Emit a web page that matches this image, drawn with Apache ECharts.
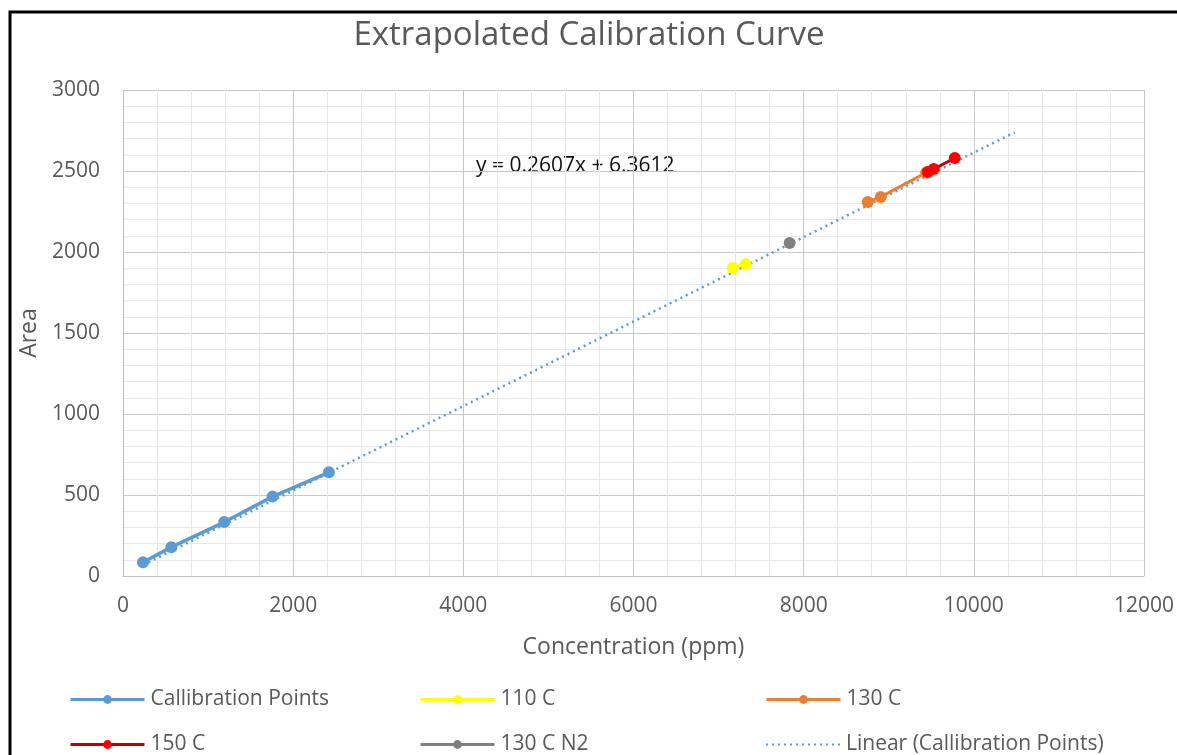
<!DOCTYPE html>
<html>
<head>
<meta charset="utf-8">
<title>Extrapolated Calibration Curve</title>
<script src="https://cdn.jsdelivr.net/npm/echarts@6/dist/echarts.min.js"></script>
<style>
  html, body { margin: 0; padding: 0; background: #fff; }
  #chart { width: 1177px; height: 755px; }
</style>
</head>
<body>
<div id="chart"></div>
<script>
// 标定点
const calX = [235, 568, 1190, 1758, 2420]
const calY = [85, 178, 333, 490, 640]
// 110 C
const t110X = [7165, 7318]
const t110Y = [1901, 1926]
// 130 C
const t130X = [8753, 8906, 9440]
const t130Y = [2309, 2340, 2490]
// 150 C
const t150X = [9459, 9529, 9776]
const t150Y = [2494, 2512, 2580]
// 130 C N2
const t130n2X = [7835]
const t130n2Y = [2056]
// 线性趋势线 (Excel 给出的方程)
const trendSlope = 0.2607
const trendIntercept = 6.3612
const trendX = [235, 10480]

const xTicks = [0, 2000, 4000, 6000, 8000, 10000, 12000]
const yTicks = [0, 500, 1000, 1500, 2000, 2500, 3000]

const zip = (xs, ys) => xs.map((x, i) => [x, ys[i]])

const font = '"Open Sans", "DejaVu Sans", sans-serif'
const gray = '#595959'

const chart = echarts.init(document.getElementById('chart'))

// 每个图例单独放置，模拟 Excel 的两行三列
const legendItem = (item, left, top, lineWidth) => ({
  data: [item],
  left: left,
  top: top,
  padding: 0,
  itemWidth: 74,
  itemHeight: 11,
  lineStyle: { width: lineWidth },
  textStyle: { fontFamily: font, fontSize: 21, color: gray, padding: [0, 0, 0, 1] }
})

const option = {
  animation: false,
  backgroundColor: '#fff',
  title: {
    text: 'Extrapolated Calibration Curve',
    left: 584,
    textAlign: 'center',
    top: 14,
    textStyle: { fontFamily: font, fontSize: 33, fontWeight: 'normal', color: gray }
  },
  graphic: [
    {
      type: 'polyline',
      shape: { points: [[10, 755], [10, 12], [1177, 12]] },
      style: { stroke: '#000', lineWidth: 3, fill: null }
    },
    {
      type: 'text',
      left: 476,
      top: 156,
      style: { text: 'y = 0.2607x + 6.3612', fontFamily: font, fontSize: 21, fill: '#111' }
    }
  ],
  legend: [
    legendItem('Callibration Points', 69, 689, 3),
    legendItem('110 C', 419, 689, 3),
    legendItem('130 C', 765, 689, 3),
    legendItem('150 C', 69, 734, 3),
    legendItem('130 C N2', 419, 734, 3),
    legendItem({ name: 'Linear (Callibration Points)', itemStyle: { opacity: 0 } }, 765, 734, 2)
  ],
  grid: { left: 123, top: 90, width: 1022, height: 486 },
  xAxis: {
    type: 'value',
    min: xTicks[0],
    max: xTicks[xTicks.length - 1],
    interval: 2000,
    name: 'Concentration (ppm)',
    nameLocation: 'middle',
    nameGap: 60,
    nameTextStyle: { fontFamily: font, fontSize: 23, color: gray },
    axisLine: { show: true, lineStyle: { color: '#BFBFBF' } },
    axisTick: { show: false },
    axisLabel: { fontFamily: font, fontSize: 21, color: gray, margin: 20, formatter: v => String(v) },
    splitLine: { show: true, lineStyle: { color: '#C8C8C8', width: 1 } },
    minorTick: { show: false, splitNumber: 5 },
    minorSplitLine: { show: true, lineStyle: { color: '#E8E8E8', width: 1 } }
  },
  yAxis: {
    type: 'value',
    min: yTicks[0],
    max: yTicks[yTicks.length - 1],
    interval: 500,
    name: 'Area',
    nameLocation: 'middle',
    nameGap: 81,
    nameRotate: 90,
    nameTextStyle: { fontFamily: font, fontSize: 23, color: gray },
    axisLine: { show: true, lineStyle: { color: '#BFBFBF' } },
    axisTick: { show: false },
    axisLabel: { fontFamily: font, fontSize: 21, color: gray, margin: 23, formatter: v => String(v) },
    splitLine: { show: true, lineStyle: { color: '#C8C8C8', width: 1 } },
    minorTick: { show: false, splitNumber: 5 },
    minorSplitLine: { show: true, lineStyle: { color: '#E8E8E8', width: 1 } }
  },
  series: [
    {
      name: 'Linear (Callibration Points)',
      type: 'line',
      data: trendX.map(x => [x, trendSlope * x + trendIntercept]),
      showSymbol: false,
      symbol: 'none',
      lineStyle: { color: '#5B9BD5', width: 2.5, type: [2, 4] },
      itemStyle: { color: '#5B9BD5' },
      z: 1
    },
    {
      name: 'Callibration Points',
      type: 'line',
      data: zip(calX, calY),
      symbol: 'circle',
      symbolSize: 12,
      lineStyle: { color: '#5B9BD5', width: 3.5 },
      itemStyle: { color: '#5B9BD5' },
      z: 3
    },
    {
      name: '110 C',
      type: 'line',
      data: zip(t110X, t110Y),
      symbol: 'circle',
      symbolSize: 12,
      lineStyle: { color: '#FFFF00', width: 3 },
      itemStyle: { color: '#FFFF00' },
      z: 3
    },
    {
      name: '130 C',
      type: 'line',
      data: zip(t130X, t130Y),
      symbol: 'circle',
      symbolSize: 12,
      lineStyle: { color: '#ED7D31', width: 3 },
      itemStyle: { color: '#ED7D31' },
      z: 3
    },
    {
      name: '150 C',
      type: 'line',
      data: zip(t150X, t150Y),
      symbol: 'circle',
      symbolSize: 12,
      lineStyle: { color: '#C00000', width: 3 },
      itemStyle: { color: '#FF0000' },
      z: 4
    },
    {
      name: '130 C N2',
      type: 'line',
      data: zip(t130n2X, t130n2Y),
      symbol: 'circle',
      symbolSize: 12,
      lineStyle: { color: '#808080', width: 3 },
      itemStyle: { color: '#808080' },
      z: 3
    }
  ]
}

chart.setOption(option)
</script>
</body>
</html>
